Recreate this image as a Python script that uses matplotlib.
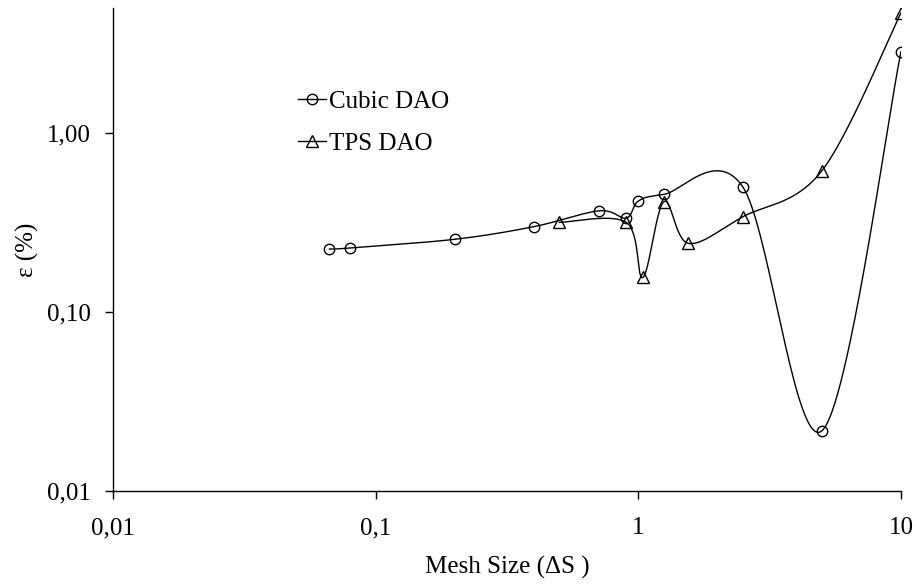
import numpy as np
import matplotlib
matplotlib.use("Agg")
import matplotlib.pyplot as plt
from matplotlib.ticker import FixedLocator, FixedFormatter, NullLocator

# ---- data ----
cubic_x = [0.0667, 0.08, 0.2, 0.4, 0.71, 0.9, 1.0, 1.25, 2.5, 5.0, 10.0]
cubic_y = [0.225, 0.228, 0.255, 0.30, 0.368, 0.335, 0.417, 0.454, 0.50, 0.0217, 2.85]
tps_x = [0.5, 0.9, 1.04, 1.25, 1.55, 2.5, 5.0, 10.0]
tps_y = [0.317, 0.317, 0.156, 0.413, 0.242, 0.341, 0.616, 4.7]

x_ticks = [0.01, 0.1, 1, 10]
x_tick_labels = ["0,01", "0,1", "1", "10"]
y_ticks = [0.01, 0.1, 1]
y_tick_labels = ["0,01", "0,10", "1,00"]

labels = ["Cubic DAO", "TPS DAO"]
xlabel = "Mesh Size (\u0394S )"
ylabel = "\u03b5 (%)"

plt.rcParams['font.family'] = ['Liberation Serif', 'DejaVu Serif']
FS = 18


def excel_smooth(x, y, n=60):
    P = np.column_stack([np.log10(x), np.log10(y)])
    out = [P[0]]
    t = np.linspace(0, 1, n)[1:, None]
    for i in range(len(P) - 1):
        p0 = P[i - 1] if i > 0 else P[i]
        p1 = P[i]
        p2 = P[i + 1]
        p3 = P[i + 2] if i + 2 < len(P) else P[i + 1]
        c1 = p1 + (p2 - p0) / 6.0
        c2 = p2 - (p3 - p1) / 6.0
        B = (1 - t) ** 3 * p1 + 3 * (1 - t) ** 2 * t * c1 + 3 * (1 - t) * t ** 2 * c2 + t ** 3 * p2
        out.extend(B)
    arr = np.array(out)
    return 10 ** arr[:, 0], 10 ** arr[:, 1]


fig = plt.figure(figsize=(9.15, 5.85), dpi=100)
ax = fig.add_axes([113 / 915, 94 / 585, (901 - 113) / 915, (491 - 8) / 585])
ax.set_xscale('log')
ax.set_yscale('log')

for xs, ys, mk, ms, lab in [(cubic_x, cubic_y, 'o', 7.5, labels[0]),
                            (tps_x, tps_y, '^', 8, labels[1])]:
    sx, sy = excel_smooth(xs, ys)
    ax.plot(sx, sy, color='black', lw=1.0, zorder=2)
    ax.plot(xs, ys, linestyle='none', marker=mk, ms=ms, mfc='none', mec='black',
            mew=1.0, zorder=3)
    ax.plot([], [], color='black', lw=1.0, marker=mk, ms=ms, mfc='none',
            mec='black', mew=1.0, label=lab)

ax.set_xlim(0.01, 10)
ax.set_ylim(0.01, 5.0)

ax.xaxis.set_major_locator(FixedLocator(x_ticks))
ax.xaxis.set_major_formatter(FixedFormatter(x_tick_labels))
ax.xaxis.set_minor_locator(NullLocator())
ax.yaxis.set_major_locator(FixedLocator(y_ticks))
ax.yaxis.set_major_formatter(FixedFormatter(y_tick_labels))
ax.yaxis.set_minor_locator(NullLocator())

ax.spines['top'].set_visible(False)
ax.spines['right'].set_visible(False)
for s in ['left', 'bottom']:
    ax.spines[s].set_linewidth(1.0)
ax.tick_params(axis='both', direction='out', length=6, width=1.0, labelsize=FS)
ax.tick_params(axis='x', pad=13)
ax.tick_params(axis='y', pad=10)

ax.set_xlabel(xlabel, fontsize=FS, labelpad=12)
ax.set_ylabel(ylabel, fontsize=FS, labelpad=6)

leg = ax.legend(loc='upper left', bbox_to_anchor=(298 / 915, 1 - 90 / 585),
                bbox_transform=fig.transFigure, frameon=False, fontsize=FS,
                handlelength=1.1, handletextpad=0.15, labelspacing=0.78,
                borderpad=0, borderaxespad=0)

fig.savefig('out.png', dpi=100)
